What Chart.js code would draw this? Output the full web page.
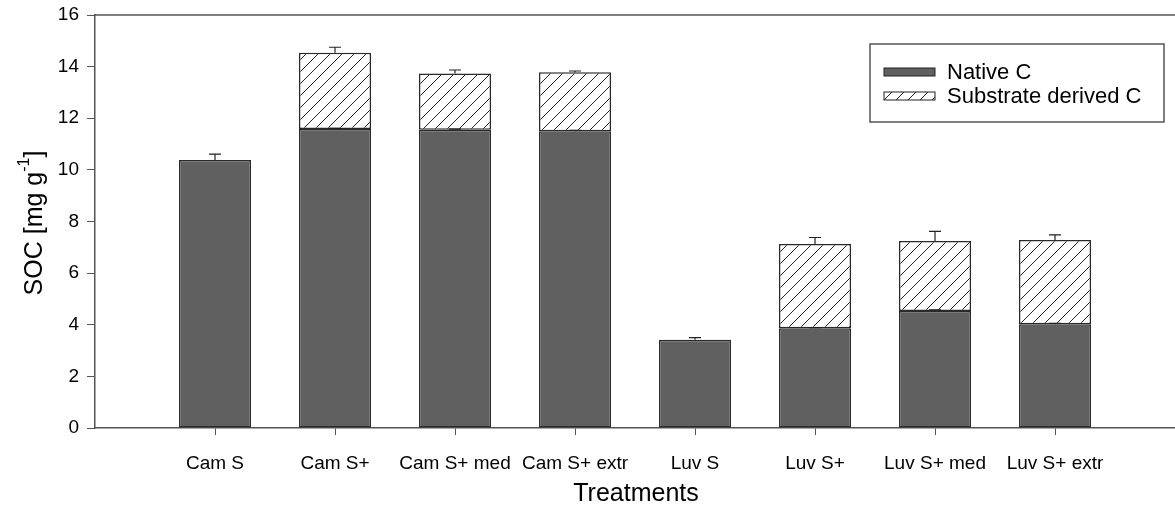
<!DOCTYPE html>
<html>
<head>
<meta charset="utf-8">
<script src="https://cdn.jsdelivr.net/npm/chart.js@4.4.1/dist/chart.umd.min.js"></script>
<style>
    html, body { margin: 0; padding: 0; background: #fff; }
    #wrap { width: 1175px; height: 510px; }
</style>
</head>
<body>
<div id="wrap"><canvas id="grafico"></canvas></div>
<script>
// - Dados -
const tratamentos = ["Cam S", "Cam S+", "Cam S+ med", "Cam S+ extr", "Luv S", "Luv S+", "Luv S+ med", "Luv S+ extr"];
const nativeC = [10.38, 11.58, 11.55, 11.50, 3.42, 3.86, 4.53, 4.02];
const substrateC = [null, 2.96, 2.18, 2.28, null, 3.27, 2.71, 3.26];
const erroNative = [0.23, 0.03, 0.03, 0.03, 0.08, 0.03, 0.05, 0.03];
const erroTotal = [0, 0.21, 0.14, 0.05, 0, 0.25, 0.38, 0.20];
const yTicks = [0, 2, 4, 6, 8, 10, 12, 14, 16];
const legendas = ["Native C", "Substrate derived C"];

const fonte = "'Liberation Sans', Arial, sans-serif";
const corEixo = "#555";

// categorias vazias nas pontas, como no grafico original
const labels = [""].concat(tratamentos, [""]);
function comPontas(arr) { return [null].concat(arr, [null]); }

// padrao hachurado
function hachura() {
    const c = document.createElement("canvas");
    c.width = 12; c.height = 12;
    const g = c.getContext("2d");
    g.fillStyle = "#fff";
    g.fillRect(0, 0, 12, 12);
    g.strokeStyle = "#222";
    g.lineWidth = 1;
    g.beginPath();
    g.moveTo(0, 12); g.lineTo(12, 0);
    g.moveTo(-1, 1); g.lineTo(1, -1);
    g.moveTo(11, 13); g.lineTo(13, 11);
    g.stroke();
    return g.createPattern(c, "repeat");
}

const extras = {
    id: "extras",
    afterDatasetsDraw(chart) {
        const ctx = chart.ctx;
        const x = chart.scales.x, y = chart.scales.y;
        const area = chart.chartArea;
        ctx.save();
        // linha de cima
        ctx.strokeStyle = corEixo;
        ctx.lineWidth = 1.5;
        ctx.beginPath();
        ctx.moveTo(area.left, area.top);
        ctx.lineTo(chart.width, area.top);
        ctx.stroke();

        // barras de erro
        ctx.strokeStyle = "#222";
        ctx.lineWidth = 1.2;
        function erro(px, valor, e) {
            if (!e) return;
            const y0 = y.getPixelForValue(valor);
            const y1 = y.getPixelForValue(valor + e);
            ctx.beginPath();
            ctx.moveTo(px, y0); ctx.lineTo(px, y1);
            ctx.moveTo(px - 6, y1); ctx.lineTo(px + 6, y1);
            ctx.stroke();
        }
        for (let i = 0; i < tratamentos.length; i++) {
            const px = x.getPixelForValue(i + 1);
            erro(px, nativeC[i], erroNative[i]);
            if (substrateC[i] !== null) erro(px, nativeC[i] + substrateC[i], erroTotal[i]);
        }

        // legenda
        ctx.lineWidth = 1.5;
        ctx.strokeStyle = corEixo;
        ctx.strokeRect(870, 44, 294, 78);
        const ds = chart.data.datasets;
        const linhas = [72, 96];
        for (let k = 0; k < ds.length; k++) {
            ctx.fillStyle = ds[k].backgroundColor;
            ctx.fillRect(884, linhas[k] - 4, 51, 8);
            ctx.strokeStyle = "#222";
            ctx.lineWidth = 1;
            ctx.strokeRect(884, linhas[k] - 4, 51, 8);
            ctx.fillStyle = "#000";
            ctx.font = "22px " + fonte;
            ctx.textBaseline = "middle";
            ctx.textAlign = "left";
            ctx.fillText(ds[k].label, 947, linhas[k] + 1);
        }

        // titulo do eixo x
        ctx.font = "25px " + fonte;
        ctx.textAlign = "center";
        ctx.textBaseline = "middle";
        ctx.fillText("Treatments", 636, 494);

        // titulo do eixo y (com expoente)
        ctx.translate(35, 223);
        ctx.rotate(-Math.PI / 2);
        const parte1 = "SOC [mg g", exp = "-1", parte2 = "]";
        ctx.font = "25px " + fonte;
        const w1 = ctx.measureText(parte1).width;
        const w3 = ctx.measureText(parte2).width;
        ctx.font = "16px " + fonte;
        const w2 = ctx.measureText(exp).width;
        let pos = -(w1 + w2 + w3) / 2;
        ctx.textAlign = "left";
        ctx.font = "25px " + fonte;
        ctx.fillText(parte1, pos, 0);
        pos += w1;
        ctx.font = "16px " + fonte;
        ctx.fillText(exp, pos, -10);
        pos += w2;
        ctx.font = "25px " + fonte;
        ctx.fillText(parte2, pos, 0);
        ctx.restore();
    }
};

const ctx = document.getElementById("grafico");
new Chart(ctx, {
    type: "bar",
    data: {
        labels: labels,
        datasets: [
            {
                label: legendas[0],
                data: comPontas(nativeC),
                backgroundColor: "#606060",
                borderColor: "#2a2a2a",
                borderWidth: 1.5,
                borderSkipped: false,
                barPercentage: 0.6,
                categoryPercentage: 1
            },
            {
                label: legendas[1],
                data: comPontas(substrateC),
                backgroundColor: hachura(),
                borderColor: "#2a2a2a",
                borderWidth: 1.5,
                borderSkipped: false,
                barPercentage: 0.6,
                categoryPercentage: 1
            }
        ]
    },
    options: {
        responsive: true,
        maintainAspectRatio: false,
        animation: false,
        layout: { padding: { top: 15, right: 0, left: 0, bottom: 0 } },
        plugins: {
            legend: { display: false },
            tooltip: { enabled: false }
        },
        scales: {
            x: {
                stacked: true,
                offset: false,
                grid: {
                    offset: false,
                    drawOnChartArea: false,
                    drawTicks: true,
                    tickLength: 7,
                    color: function (c) { return (c.index === 0 || c.index === labels.length - 1) ? "transparent" : corEixo; }
                },
                border: { display: true, color: corEixo, width: 1.5 },
                ticks: {
                    color: "#000",
                    font: { family: fonte, size: 19 },
                    padding: 17,
                    maxRotation: 0,
                    autoSkip: false
                },
                afterFit: function (s) { s.height = 82; s.paddingLeft = 0; s.paddingRight = 0; }
            },
            y: {
                stacked: true,
                min: 0,
                max: 16,
                afterBuildTicks: function (s) { s.ticks = yTicks.map(function (v) { return { value: v }; }); },
                grid: {
                    drawOnChartArea: false,
                    drawTicks: true,
                    tickLength: 8,
                    color: corEixo
                },
                border: { display: true, color: corEixo, width: 1.5 },
                ticks: {
                    color: "#000",
                    font: { family: fonte, size: 19 },
                    padding: 8
                },
                afterFit: function (s) { s.width = 95; s.paddingTop = 0; s.paddingBottom = 0; }
            }
        }
    },
    plugins: [extras]
});
</script>
</body>
</html>
